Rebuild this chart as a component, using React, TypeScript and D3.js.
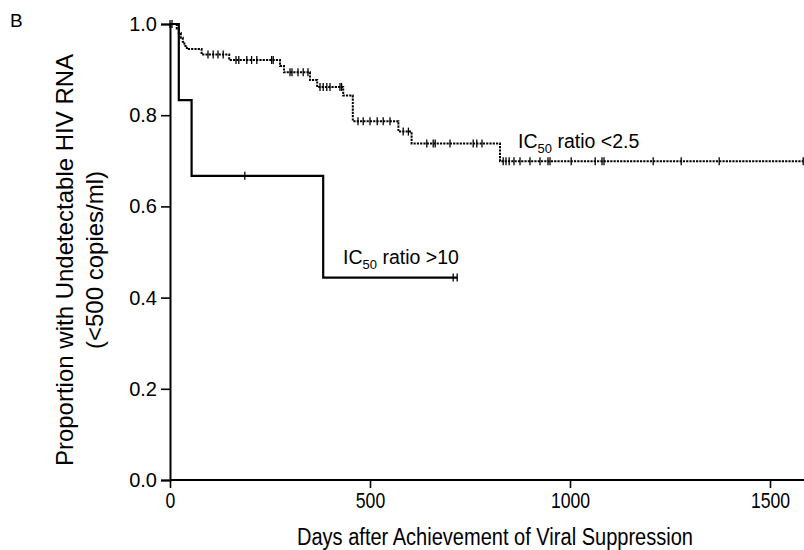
import * as d3 from "d3";
import { useEffect, useRef } from "react";

// IC50 ratio <2.5 group (dotted line)
const lowTimes = [0, 17, 22, 27, 32, 36, 42, 79, 148, 275, 285, 350, 368, 433, 457, 571, 604, 825, 1583];
const lowSurv = [1, 0.99, 0.98, 0.97, 0.961, 0.952, 0.945, 0.933, 0.921, 0.908, 0.894, 0.877, 0.862, 0.843, 0.787, 0.764, 0.738, 0.699, 0.699];
const lowCensored = [0, 5, 95, 108, 120, 133, 165, 172, 192, 204, 217, 254, 258, 300, 305, 320, 333, 345, 375, 383, 392, 400, 425, 429, 470, 483, 500, 518, 533, 550, 583, 596, 642, 658, 663, 700, 758, 767, 780, 833, 840, 848, 860, 875, 900, 925, 945, 950, 1003, 1063, 1080, 1085, 1208, 1278, 1373, 1583];

// IC50 ratio >10 group (solid line)
const highTimes = [0, 22, 54, 383, 718];
const highSurv = [1, 0.833, 0.667, 0.444, 0.444];
const highCensored = [187, 708, 718];

const xTicks = [0, 500, 1000, 1500];
const yTicks = [0, 0.2, 0.4, 0.6, 0.8, 1.0];

const font = "'Liberation Sans', Arial, Helvetica, sans-serif";

export default function App() {
  const ref = useRef<SVGSVGElement>(null);

  useEffect(() => {
    const svg = d3.select(ref.current);
    svg.selectAll("*").remove();

    const width = 804;
    const height = 550;
    const margin = { top: 24, left: 170, bottom: 70 };

    const x = d3.scaleLinear().domain([0, 1590]).range([margin.left, 806]);
    const y = d3.scaleLinear().domain([0, 1]).range([height - margin.bottom, margin.top]);

    svg.attr("width", width).attr("height", height);

    // axes
    const xAxis = svg.append("g")
      .attr("transform", `translate(0,${y(0)})`)
      .call(d3.axisBottom(x).tickValues(xTicks).tickFormat(d3.format("d")).tickSize(8).tickPadding(4));
    xAxis.select(".domain").attr("d", `M${x(0)},0H${width}`);

    const yAxis = svg.append("g")
      .attr("transform", `translate(${x(0)},0)`)
      .call(d3.axisLeft(y).tickValues(yTicks).tickFormat(d3.format(".1f")).tickSize(9).tickPadding(4));

    [xAxis, yAxis].forEach(g => {
      g.select(".domain").attr("stroke", "#000").attr("stroke-width", 2);
      g.selectAll(".tick line").attr("stroke", "#000").attr("stroke-width", 1.6);
      g.selectAll(".tick text").attr("fill", "#000").style("font-family", font).style("font-size", "20px");
    });

    // x tick labels look a bit condensed in the original
    xAxis.selectAll<SVGTextElement, number>(".tick text")
      .style("font-size", "22px")
      .attr("textLength", d => String(d).length * 9.8)
      .attr("lengthAdjust", "spacingAndGlyphs");

    const stepLine = d3.line<[number, number]>()
      .x(d => x(d[0]))
      .y(d => y(d[1]))
      .curve(d3.curveStepAfter);

    const survAt = (times: number[], surv: number[], t: number) =>
      surv[Math.max(0, d3.bisectRight(times, t) - 1)];

    const curves = [
      { times: lowTimes, surv: lowSurv, cens: lowCensored, dash: "2.2,1.1", w: 2 },
      { times: highTimes, surv: highSurv, cens: highCensored, dash: null, w: 2.2 },
    ];

    curves.forEach(c => {
      svg.append("path")
        .datum(c.times.map((t, i) => [t, c.surv[i]] as [number, number]))
        .attr("d", stepLine)
        .attr("fill", "none")
        .attr("stroke", "#000")
        .attr("stroke-width", c.w)
        .attr("stroke-dasharray", c.dash);

      svg.append("g")
        .selectAll("line")
        .data(c.cens)
        .join("line")
        .attr("x1", d => x(d))
        .attr("x2", d => x(d))
        .attr("y1", d => y(survAt(c.times, c.surv, d)) - 4)
        .attr("y2", d => y(survAt(c.times, c.surv, d)) + 4)
        .attr("stroke", "#000")
        .attr("stroke-width", 1.3);
    });

    // curve labels
    const addLabel = (lx: number, ly: number, rest: string) => {
      const t = svg.append("text")
        .attr("x", lx)
        .attr("y", ly)
        .style("font-family", font)
        .style("font-size", "19.5px");
      t.append("tspan").text("IC");
      t.append("tspan").attr("dy", 5).style("font-size", "13px").text("50");
      t.append("tspan").attr("dy", -5).text(" ratio " + rest);
    };
    addLabel(518, 148, "<2.5");
    addLabel(343, 264, ">10");

    // axis titles
    svg.append("text")
      .attr("x", 495)
      .attr("y", 545)
      .attr("text-anchor", "middle")
      .attr("textLength", 396)
      .attr("lengthAdjust", "spacingAndGlyphs")
      .style("font-family", font)
      .style("font-size", "23px")
      .text("Days after Achievement of Viral Suppression");

    const yTitle = svg.append("text")
      .attr("transform", "translate(73,260) rotate(-90)")
      .attr("text-anchor", "middle")
      .style("font-family", font)
      .style("font-size", "24px");
    yTitle.append("tspan").attr("x", 0).attr("dy", 0).text("Proportion with Undetectable HIV RNA");
    yTitle.append("tspan").attr("x", 0).attr("dy", 30).text("(<500 copies/ml)");

    svg.append("text")
      .attr("x", 10)
      .attr("y", 27)
      .style("font-family", font)
      .style("font-size", "19px")
      .text("B");
  }, []);

  return (
    <svg ref={ref} style={{ position: "absolute", left: 0, top: 0, background: "#fff" }}></svg>
  );
}
